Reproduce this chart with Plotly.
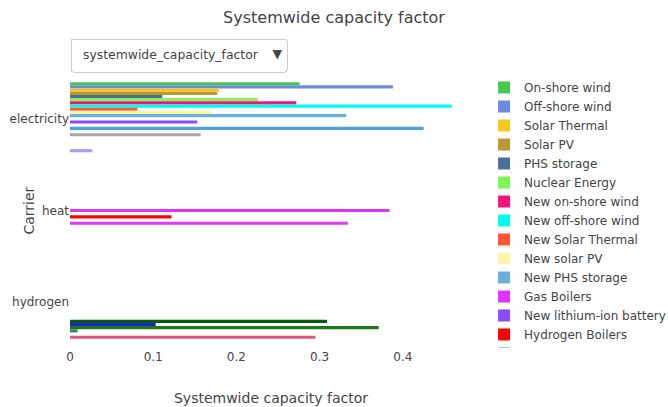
import plotly.graph_objects as go

carriers = ["electricity", "heat", "hydrogen"]

tech_names = [
    "On-shore wind", "Off-shore wind", "Solar Thermal", "Solar PV", "PHS storage",
    "Nuclear Energy", "New on-shore wind", "New off-shore wind", "New Solar Thermal",
    "New solar PV", "New PHS storage", "Gas Boilers", "New lithium-ion battery",
    "Hydrogen Boilers", "Hydro power", "New gas boilers", "Transmission",
    "Electrolysis", "Hydrogen storage", "New electrolysis", "Fuel cells",
    "New battery", "Hydrogen pipelines",
]

tech_carrier = [
    "electricity", "electricity", "electricity", "electricity", "electricity",
    "electricity", "electricity", "electricity", "electricity", "electricity",
    "electricity", "heat", "electricity", "heat", "electricity", "heat",
    "electricity", "hydrogen", "hydrogen", "hydrogen", "hydrogen",
    "electricity", "hydrogen",
]

capacity_factor = [
    0.276, 0.388, 0.179, 0.177, 0.111,
    0.226, 0.272, 0.459, 0.081, 0.170,
    0.332, 0.384, 0.153, 0.122, 0.425,
    0.334, 0.157, 0.309, 0.103, 0.371,
    0.009, 0.027, 0.295,
]

tech_colors = [
    "#45c94f", "#6c88e0", "#f8c81e", "#b89a2e", "#4a7098",
    "#7ef65a", "#f5157a", "#00fdf0", "#ff5533", "#fff3a6",
    "#6ab1d8", "#dd33ff", "#8a4bff", "#ff0000", "#4fa3d4",
    "#e037fa", "#a6a6a6", "#0b5a0b", "#2020e0", "#1a7a1a",
    "#258a72", "#b09af0", "#e2557a",
]

fig = go.Figure()
for name, carrier, val, col in zip(tech_names, tech_carrier, capacity_factor, tech_colors):
    fig.add_trace(go.Bar(
        y=[carrier], x=[val], name=name, orientation="h",
        marker=dict(color=col, line=dict(width=0)),
    ))

fig.update_layout(
    width=668, height=407,
    barmode="group",
    title=dict(text="Systemwide capacity factor", x=0.5, xanchor="center",
               y=0.958, yanchor="middle",
               font=dict(size=16, color="#444")),
    font=dict(family="DejaVu Sans, Verdana, sans-serif", size=12, color="#444"),
    plot_bgcolor="white", paper_bgcolor="white",
    margin=dict(l=70, r=196, t=73, b=59, autoexpand=False),
    xaxis=dict(title=dict(text="Systemwide capacity factor", font=dict(size=14),
                          standoff=30),
               showgrid=False, zeroline=False, showline=False, ticks="",
               automargin=False),
    yaxis=dict(title=dict(text=""), showgrid=False, zeroline=False,
               automargin=False, ticks="",
               autorange="reversed", categoryorder="array", categoryarray=carriers),
    legend=dict(x=1.03, y=1, font=dict(size=12)),
    annotations=[dict(text="Carrier", textangle=-90, xref="paper", yref="paper",
                      x=-42 / 402, y=0.5, xanchor="center", yanchor="middle",
                      showarrow=False, font=dict(size=14, color="#444"))],
    updatemenus=[dict(
        type="dropdown", x=0, y=1.0, xanchor="left", yanchor="bottom",
        pad=dict(t=0, b=2, l=0, r=0),
        bgcolor="white", bordercolor="#c8cbd8",
        font=dict(size=12.4),
        buttons=[dict(label="systemwide_capacity_factor", method="restyle", args=[{}])],
    )],
)

fig.write_html("out.html", config={"displayModeBar": False},
               post_script="document.body.style.margin='0';")
